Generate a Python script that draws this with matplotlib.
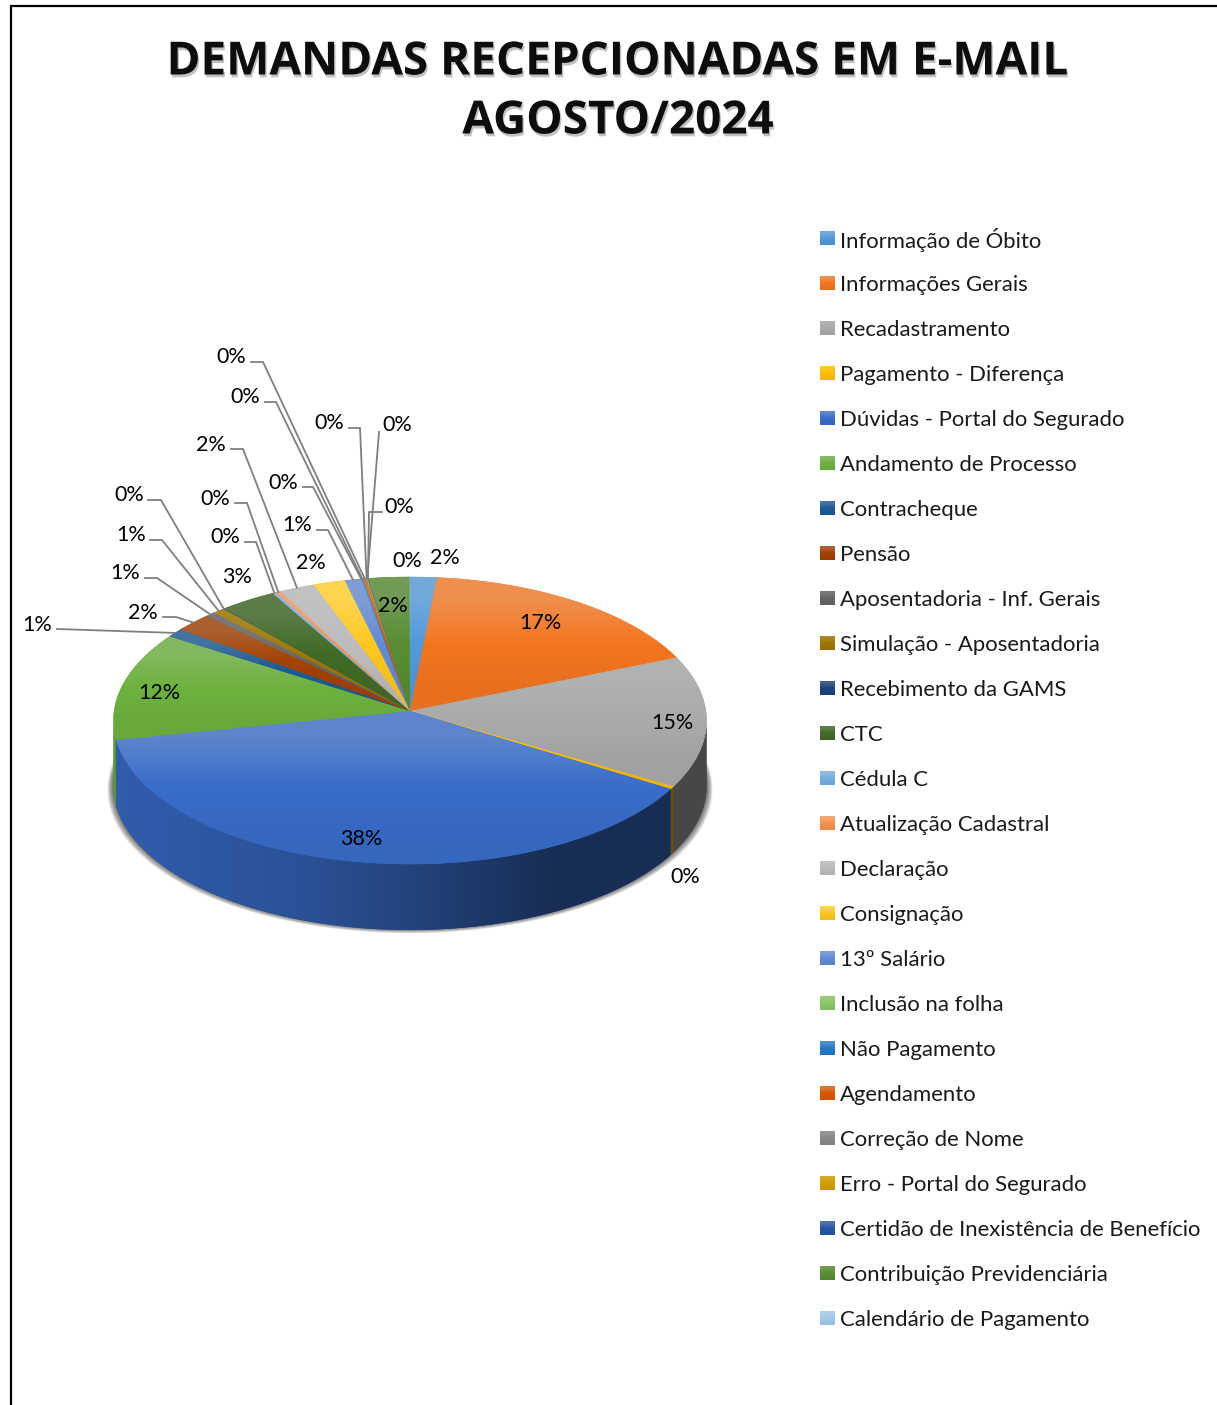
import colorsys

import matplotlib.patheffects as path_effects
import matplotlib.pyplot as plt
import numpy as np
from matplotlib.colors import to_rgb
from matplotlib.patches import Polygon

categories = [
    "Informação de Óbito", "Informações Gerais", "Recadastramento",
    "Pagamento - Diferença", "Dúvidas - Portal do Segurado",
    "Andamento de Processo", "Contracheque", "Pensão",
    "Aposentadoria - Inf. Gerais", "Simulação - Aposentadoria",
    "Recebimento da GAMS", "CTC", "Cédula C", "Atualização Cadastral",
    "Declaração", "Consignação", "13º Salário", "Inclusão na folha",
    "Não Pagamento", "Agendamento", "Correção de Nome",
    "Erro - Portal do Segurado", "Certidão de Inexistência de Benefício",
    "Contribuição Previdenciária", "Calendário de Pagamento",
]
values = [
    1.55, 17.2, 14.8, 0.3, 38.0, 12.3, 1.0, 2.15, 0.55, 0.7, 0.05, 3.3, 0.2,
    0.3, 2.05, 1.85, 0.95, 0.02, 0.1, 0.18, 0.04, 0.04, 0.04, 2.38, 0.02,
]
colors = [
    "#5B9BD5", "#ED7D31", "#A5A5A5", "#FFC000", "#4472C4", "#70AD47",
    "#255E91", "#9E480E", "#636363", "#997300", "#264478", "#43682B",
    "#7CAFDD", "#F1975A", "#B7B7B7", "#FFCD33", "#698ED0", "#8CC168",
    "#327DC2", "#D26012", "#848484", "#CC9A00", "#335AA1", "#5A8A39",
    "#A3C7E7",
]
title_lines = ["DEMANDAS RECEPCIONADAS EM E-MAIL", "AGOSTO/2024"]

# layout, in image pixels
label_pos = [
    (445, 558), (540, 623), (672, 723), (685, 877), (361, 839), (159, 693),
    (37, 625), (143, 613), (125, 573), (131, 535), (129, 495), (237, 577),
    (225, 537), (215, 499), (211, 445), (311, 563), (297, 525), (283, 483),
    (245, 397), (231, 357), (329, 423), (397, 425), (399, 507), (393, 606),
    (407, 561),
]
# leader line points from the label towards the slice, by slice index
leaders = {
    6: [(57, 629)],
    7: [(163, 617), (176, 617)],
    8: [(145, 578), (157, 578)],
    9: [(150, 540), (162, 540)],
    10: [(148, 500), (161, 500)],
    12: [(245, 542), (256, 542)],
    13: [(235, 503), (247, 503)],
    14: [(231, 449), (243, 449)],
    16: [(317, 530), (328, 530)],
    17: [(303, 487), (313, 487)],
    18: [(265, 402), (276, 402)],
    19: [(251, 362), (263, 362)],
    20: [(349, 428), (360, 428)],
    21: [(379, 432)],
    22: [(382, 512), (369, 512)],
}

CX, CY = 410, 711
RX, RY = 295.9, 142.9
PERSP = 0.0662
DEPTH = 66
TEXT_FONT = "Lato"


def project(t):
    # t in degrees, clockwise from the top of the pie
    t = np.radians(t)
    xc, yc = np.sin(t), np.cos(t)
    d = 1 + PERSP * yc
    return CX + RX * xc / d, CY - RY * yc / d


def saturated(color, amount=1.1):
    h, s, v = colorsys.rgb_to_hsv(*to_rgb(color))
    return np.array(colorsys.hsv_to_rgb(h, min(s * amount, 1), min(v * 1.03, 1)))


def fill_gradient(ax, poly, rgb_image, zorder):
    xs, ys = poly[:, 0], poly[:, 1]
    extent = (xs.min(), xs.max(), ys.max(), ys.min())
    im = ax.imshow(rgb_image, extent=extent, aspect="auto", zorder=zorder,
                   interpolation="bilinear")
    im.set_clip_path(Polygon(poly, transform=ax.transData))


def vertical_ramp(color):
    base = np.array(to_rgb(color))
    sat = saturated(color)
    top = base + (1 - base) * 0.14
    bottom = sat * 0.95
    return np.array([[top], [sat], [bottom]])


def wall_shade(x):
    return np.interp(x, [113, 300, 410, 550, 706], [0.85, 0.75, 0.62, 0.42, 0.42])


fig = plt.figure(figsize=(12.17, 14.05), dpi=100)
ax = fig.add_axes([0, 0, 1, 1])

fractions = np.array(values) / sum(values) * 360
ends = np.cumsum(fractions)
starts = ends - fractions
T_RIGHT = 93.8
T_LEFT = 266.2

# soft shadow under the pie
rim_t = np.linspace(0, 360, 361)
rim_x, rim_y = project(rim_t)
for grow in np.linspace(6, 0, 10):
    sx = CX + (rim_x - CX) * (1 + grow / 296)
    sy = rim_y + DEPTH + grow * 0.7 - 1
    ax.fill(sx, sy, color="black", alpha=0.08, lw=0, zorder=1)

# side wall
for start, end, color in zip(starts, ends, colors):
    lo, hi = max(start, T_RIGHT), min(end, T_LEFT)
    if hi <= lo:
        continue
    t = np.linspace(lo, hi, max(int(hi - lo) * 2, 2))
    x, y = project(t)
    poly = np.vstack([np.c_[x, y], np.c_[x[::-1], y[::-1] + DEPTH]])
    steps = np.linspace(x.min(), x.max(), 64)
    image = saturated(color)[None, None, :] * wall_shade(steps)[None, :, None]
    ax.add_patch(Polygon(poly, fc=image[0, 32], lw=0, zorder=2))
    fill_gradient(ax, poly, image, 3)

# top face
for start, end, color in zip(starts, ends, colors):
    t = np.linspace(start, end, max(int(end - start) * 2, 2))
    x, y = project(t)
    poly = np.vstack([[CX, CY], np.c_[x, y]])
    ax.add_patch(Polygon(poly, fc=saturated(color), ec=saturated(color), lw=0.3, zorder=4))
    fill_gradient(ax, poly, vertical_ramp(color), 5)

# leader lines and percent labels
for i, value in enumerate(values):
    lx, ly = label_pos[i]
    ax.text(lx, ly, f"{int(value + 0.5)}%", ha="center", va="center",
            fontsize=15.5, family=TEXT_FONT, color="black", zorder=8)
    if i in leaders:
        px, py = project((starts[i] + ends[i]) / 2)
        pts = leaders[i] + [(px, py)]
        ax.plot([p[0] for p in pts], [p[1] for p in pts], color="#7f7f7f",
                lw=1.3, zorder=7, solid_joinstyle="miter")

# legend
for i, (name, color) in enumerate(zip(categories, colors)):
    y = 238.5 + 45 * i
    ax.imshow(vertical_ramp(color), extent=(820, 835, y + 7, y - 7), aspect="auto",
              zorder=6, interpolation="bilinear")
    ax.text(840, y + 1.5, name, ha="left", va="center", fontsize=15.9, family=TEXT_FONT,
            color="#1a1a1a", zorder=8)

# title
for line, y in zip(title_lines, [62, 121]):
    ax.text(618, y, line, ha="center", va="center", fontsize=33, fontweight="bold",
            family="Open Sans", color="#0d0d0d", zorder=8,
            path_effects=[path_effects.withSimplePatchShadow(
                offset=(1, -2), shadow_rgbFace="#777777", alpha=0.45)])

# chart frame
ax.plot([11, 11, 1217], [1405, 6, 6], color="black", lw=1.6, zorder=9,
        solid_joinstyle="miter")

ax.set_xlim(0, 1217)
ax.set_ylim(1405, 0)
ax.axis("off")
fig.savefig("out.png", dpi=100, facecolor="white")
